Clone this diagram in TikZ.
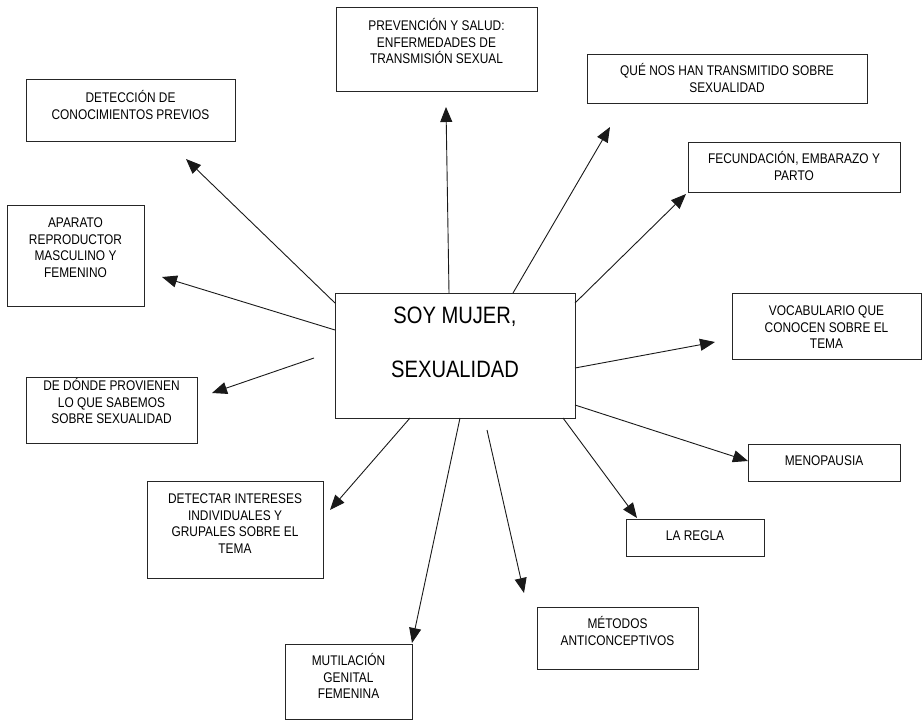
\documentclass[tikz,border=0pt]{standalone}
\usepackage{fontspec}
\setmainfont[FakeStretch=0.85]{Liberation Sans}
\usetikzlibrary{arrows.meta,calc}
\tikzset{
  box/.style={draw=black!85, line width=1pt, fill=white, inner sep=0pt, outer sep=0pt},
  lbl/.style={anchor=north, inner sep=0pt, align=center, text=black,
              font=\fontsize{14}{16.8}\selectfont},
  biglbl/.style={anchor=north, inner sep=0pt, align=center, text=black,
              font=\fontsize{23.7}{54}\selectfont},
  arr/.style={draw=black!90, line width=0.9pt, -{Triangle[length=15pt,width=12pt]}}
}
\newcommand{\st}{\rule{0pt}{14pt}}
\begin{document}
\begin{tikzpicture}[x=1pt,y=-1pt]
\useasboundingbox (0,0) rectangle (923,720);
% boxes
\node[box, minimum width=240pt, minimum height=125pt] (c) at (455,355.5) {};
\node[box, minimum width=201pt, minimum height=84pt] (b1) at (436.5,49) {};
\node[box, minimum width=280pt, minimum height=49pt] (b2) at (727,78.5) {};
\node[box, minimum width=209pt, minimum height=62pt] (b3) at (130.5,110) {};
\node[box, minimum width=137pt, minimum height=101pt] (b4) at (75.5,255.5) {};
\node[box, minimum width=171pt, minimum height=66pt] (b5) at (111.5,410) {};
\node[box, minimum width=212pt, minimum height=50pt] (b6) at (794,167) {};
\node[box, minimum width=189pt, minimum height=66pt] (b7) at (826.5,326) {};
\node[box, minimum width=152pt, minimum height=37pt] (b8) at (824,462.5) {};
\node[box, minimum width=138pt, minimum height=37pt] (b9) at (695,537.5) {};
\node[box, minimum width=161pt, minimum height=62pt] (b10) at (617.5,638) {};
\node[box, minimum width=127pt, minimum height=75pt] (b11) at (348.5,681.5) {};
\node[box, minimum width=176pt, minimum height=97pt] (b12) at (235,529.5) {};
% texts
\node[biglbl] (tc) at (455,299.5) {\rule{0pt}{24pt}SOY MUJER,\\SEXUALIDAD};
\node[lbl] (t1) at (436.5,16) {\st PREVENCIÓN Y SALUD:\\ENFERMEDADES DE\\TRANSMISIÓN SEXUAL};
\node[lbl] (t2) at (727,61) {\st QUÉ NOS HAN TRANSMITIDO SOBRE\\SEXUALIDAD};
\node[lbl] (t3) at (130.5,88) {\st DETECCIÓN DE\\CONOCIMIENTOS PREVIOS};
\node[lbl] (t4) at (75.5,213) {\st APARATO\\REPRODUCTOR\\MASCULINO Y\\FEMENINO};
\node[lbl] (t5) at (111.5,376) {\st DE DÓNDE PROVIENEN\\LO QUE SABEMOS\\SOBRE SEXUALIDAD};
\node[lbl] (t6) at (794,149) {\st FECUNDACIÓN, EMBARAZO Y\\PARTO};
\node[lbl] (t7) at (826.5,301) {\st VOCABULARIO QUE\\CONOCEN SOBRE EL\\TEMA};
\node[lbl] (t8) at (824,451) {\st MENOPAUSIA};
\node[lbl] (t9) at (695,526) {\st LA REGLA};
\node[lbl] (t10) at (617.5,614) {\st MÉTODOS\\ANTICONCEPTIVOS};
\node[lbl] (t11) at (348.5,651) {\st MUTILACIÓN\\GENITAL\\FEMENINA};
\node[lbl] (t12) at (235,489) {\st DETECTAR INTERESES\\INDIVIDUALES Y\\GRUPALES SOBRE EL\\TEMA};
% connector ends
\coordinate (s1) at ($(c.north west)+(114,0)$);
\coordinate (s2) at ($(c.north west)+(178,0)$);
\coordinate (s3) at ($(c.north west)+(0,10)$);
\coordinate (s4) at ($(c.north west)+(0,37)$);
\coordinate (s5) at (314,358);
\coordinate (s6) at ($(c.north east)+(0,10)$);
\coordinate (s7) at ($(c.north east)+(0,75)$);
\coordinate (s8) at ($(c.north east)+(0,112)$);
\coordinate (s9) at ($(c.south east)+(-12,0)$);
\coordinate (s10) at (487,430);
\coordinate (s11) at ($(c.south west)+(125,0)$);
\coordinate (s12) at ($(c.south west)+(75,0)$);
\coordinate (e1) at (446,107);
\coordinate (e2) at (610,127);
\coordinate (e3) at (186,159);
\coordinate (e4) at (162,277);
\coordinate (e5) at (212,393);
\coordinate (e6) at (686,194);
\coordinate (e7) at (715,342);
\coordinate (e8) at (748,461);
\coordinate (e9) at (637,518);
\coordinate (e10) at (524,593);
\coordinate (e11) at (412,643);
\coordinate (e12) at (330,510);
\foreach \i in {1,...,12}{\draw[arr] (s\i) -- (e\i);}
\end{tikzpicture}
\end{document}
